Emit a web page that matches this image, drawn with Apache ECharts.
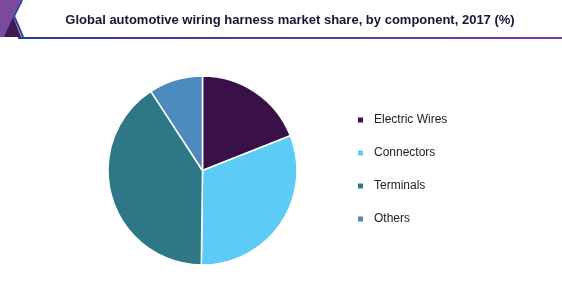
<!DOCTYPE html>
<html><head><meta charset="utf-8">
<script src="https://cdn.jsdelivr.net/npm/echarts@6/dist/echarts.min.js"></script>
<style>html,body{margin:0;padding:0;background:#fff}#c{width:562px;height:295px}</style>
</head><body><div id="c"></div>
<script>
const categories = ["Electric Wires", "Connectors", "Terminals", "Others"];
const shares = [19, 31.2, 40.6, 9.2];
const colors = ["#3a1048", "#5ccbf5", "#2e7787", "#4d8bbf"];
const titleText = "Global automotive wiring harness market share, by component, 2017 (%)";

const chart = echarts.init(document.getElementById('c'), null, {renderer: 'canvas'});
chart.setOption({
  animation: false,
  color: colors,
  title: {
    text: titleText,
    left: 285, top: 9, textAlign: 'center',
    textStyle: {fontFamily: 'Liberation Sans, Arial, sans-serif', fontSize: 13, fontWeight: 'bold', color: '#1c1236'}
  },
  legend: {
    orient: 'vertical', left: 351, top: 108,
    itemWidth: 7, itemHeight: 7, itemGap: 19, icon: 'rect',
    textStyle: {fontFamily: 'Liberation Sans, Arial, sans-serif', fontSize: 12, color: '#222', lineHeight: 14, padding: [0,0,0,5]},
    data: categories
  },
  graphic: [
    {type: 'polygon', shape: {points: [[0,0],[21,0],[13,16],[21,37],[0,37]]}, style: {fill: '#7b4a9e'}},
    {type: 'polygon', shape: {points: [[13,17],[4,37],[21,37]]}, style: {fill: '#3d1a4f'}},
    {type: 'polyline', shape: {points: [[22,0],[14,16],[23,37]]}, style: {stroke: '#2f3f9c', lineWidth: 2, fill: null}},
    {type: 'line', shape: {x1: 18, y1: 38, x2: 562, y2: 38},
      style: {lineWidth: 2, stroke: new echarts.graphic.LinearGradient(0,0,1,0,[{offset:0,color:'#2a3c98'},{offset:1,color:'#7a3aa6'}])}}
  ],
  series: [{
    type: 'pie',
    center: [202.5, 170.5],
    radius: 94.5,
    startAngle: 90,
    clockwise: true,
    label: {show: false},
    labelLine: {show: false},
    itemStyle: {borderColor: '#fff', borderWidth: 1.5},
    emphasis: {disabled: true},
    data: categories.map((n, i) => ({name: n, value: shares[i]}))
  }]
});
</script></body></html>
